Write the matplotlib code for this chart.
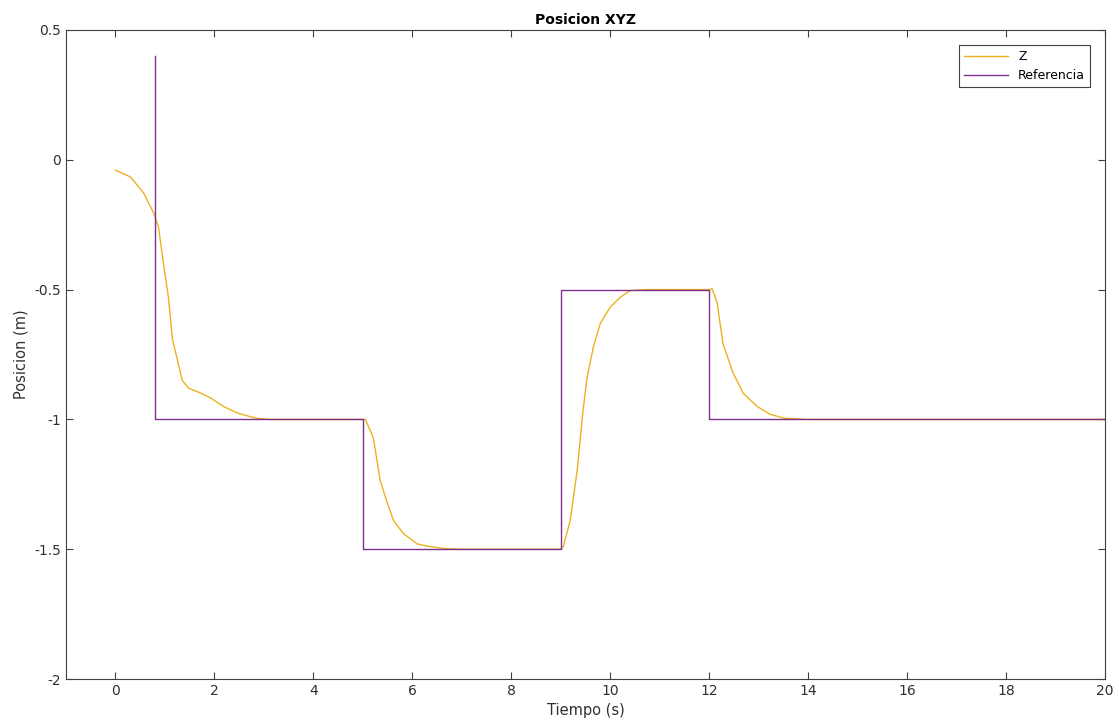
import matplotlib
matplotlib.use('Agg')
import matplotlib.pyplot as plt

plt.rcParams['axes.unicode_minus'] = False
plt.rcParams['font.family'] = 'DejaVu Sans'

# Z response
t_z = [0, 0.3, 0.57, 0.77, 0.87, 0.97, 1.07, 1.15, 1.25, 1.35, 1.48, 1.68, 1.92, 2.18, 2.46, 2.73, 2.87, 3.1,
       5.0, 5.05, 5.21, 5.35, 5.49, 5.62, 5.82, 6.1, 6.36, 6.7, 7.0,
       9.0, 9.05, 9.19, 9.33, 9.45, 9.53, 9.66, 9.8, 10.0, 10.2, 10.4, 10.7, 11.0,
       12.0, 12.06, 12.16, 12.28, 12.48, 12.69, 12.97, 13.23, 13.5, 14.0, 20.0]
z = [-0.04, -0.066, -0.128, -0.205, -0.26, -0.40, -0.53, -0.69, -0.77, -0.85, -0.88, -0.895, -0.917, -0.95, -0.975, -0.99, -0.996, -1.0,
     -1.0, -1.0, -1.07, -1.235, -1.32, -1.39, -1.44, -1.48, -1.49, -1.498, -1.5,
     -1.5, -1.49, -1.39, -1.20, -0.965, -0.84, -0.72, -0.63, -0.567, -0.53, -0.504, -0.5, -0.5,
     -0.5, -0.497, -0.55, -0.71, -0.82, -0.90, -0.95, -0.98, -0.995, -1.0, -1.0]

# reference steps
t_ref = [0.8, 0.8, 5.0, 5.0, 5.0, 9.0, 9.0, 12.0, 12.0, 12.0, 20.0]
ref = [0.4, -1.0, -1.0, -1.18, -1.5, -1.5, -0.5, -0.5, -0.67, -1.0, -1.0]

yticks = [-2, -1.5, -1, -0.5, 0, 0.5]
ytick_labels = ['-2', '-1.5', '-1', '-0.5', '0', '0.5']
xticks = list(range(0, 21, 2))

fig = plt.figure(figsize=(11.19, 7.26), dpi=100)
ax = fig.add_axes([0.059, 0.0647, 0.9285, 0.894])

ax.plot(t_z, z, color='#EDB120', linewidth=1, label='Z')
ax.plot(t_ref, ref, color='#7E2F8E', linewidth=1, label='Referencia')

ax.set_xlim(-1, 20)
ax.set_ylim(-2, 0.5)
ax.set_xticks(xticks)
ax.set_yticks(yticks)
ax.set_yticklabels(ytick_labels)
ax.tick_params(direction='in', top=True, right=True, length=5, labelsize=10,
               colors='#404040', labelcolor='#303030')
for s in ax.spines.values():
    s.set_color('#404040')
    s.set_linewidth(0.8)

ax.set_title('Posicion XYZ', fontsize=10, fontweight='bold', pad=4)
ax.set_xlabel('Tiempo (s)', fontsize=10.5, color='#303030')
ax.set_ylabel('Posicion (m)', fontsize=10.5, color='#303030')

leg = ax.legend(loc='upper right', fontsize=9, fancybox=False, framealpha=1,
                handlelength=3.5, borderaxespad=1.2)
leg.get_frame().set_edgecolor('#404040')
leg.get_frame().set_linewidth(0.8)

fig.savefig('out.png', dpi=100)
